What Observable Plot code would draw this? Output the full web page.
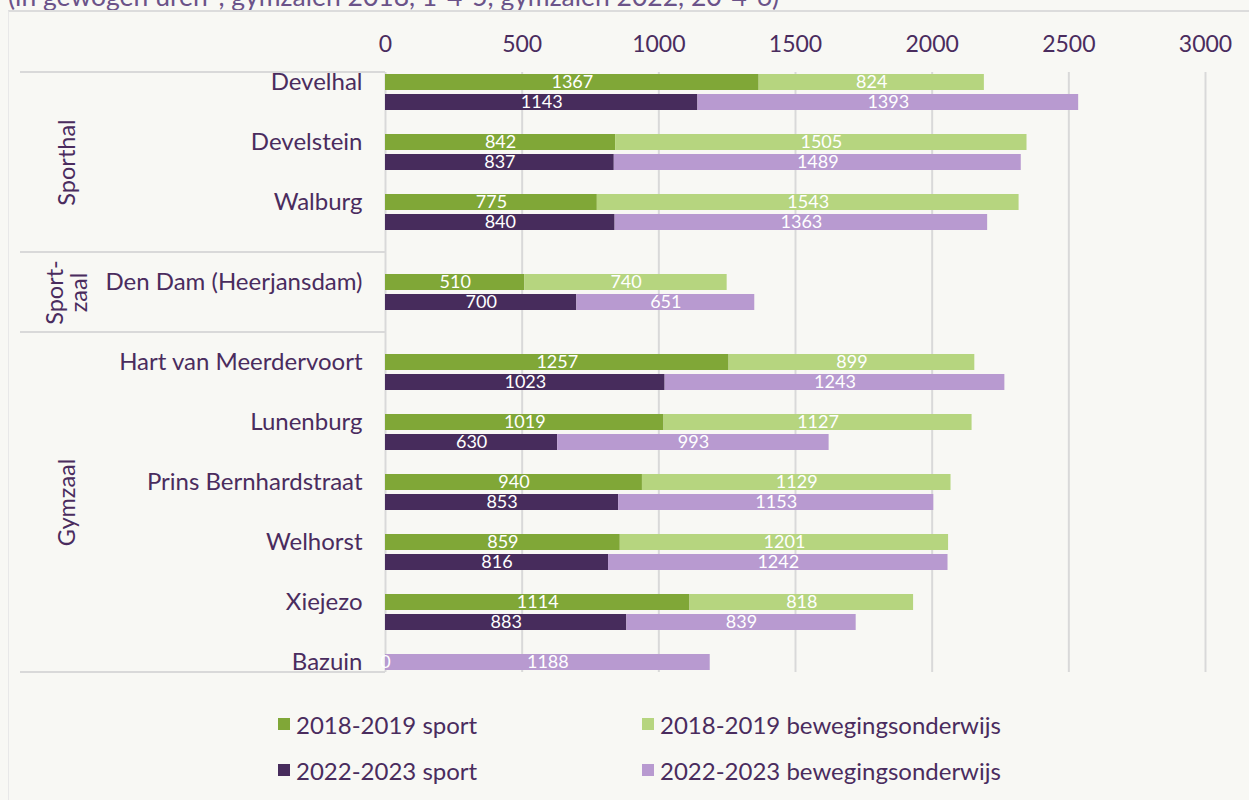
<!DOCTYPE html>
<html><head><meta charset="utf-8">
<script src="https://cdn.jsdelivr.net/npm/d3@7"></script>
<script src="https://cdn.jsdelivr.net/npm/@observablehq/plot@0.6"></script>
<style>
body{margin:0;background:#f8f8f4;font-family:Lato,sans-serif;width:1249px;height:800px;overflow:hidden;position:relative}
#sub{position:absolute;left:8px;top:-20px;font-size:26.5px;color:#6b5389;white-space:nowrap}
#frame{position:absolute;left:8px;top:10px;right:0;bottom:0;border-top:2px solid #dcdcdc;border-left:1px solid #e8e8e8}
#chart{position:absolute;left:0;top:0}
#legend{position:absolute;left:278px;top:708px;display:grid;grid-template-columns:364px 364px;row-gap:14px}
.item{display:flex;align-items:center;font-size:24px;color:#4a2c5e;height:32px}
.sw{width:12px;height:12px;margin-right:6px}
</style></head><body>
<div id="sub">(in gewogen uren*, gymzalen 2018, 1-4-5, gymzalen 2022, 20-4-6)</div>
<div id="frame"></div>
<div id="chart"></div>
<div id="legend"></div>
<script>
const groups = ["Sporthal", "Sport-\nzaal", "Gymzaal"];
const locations = ["Develhal", "Develstein", "Walburg", "Den Dam (Heerjansdam)", "Hart van Meerdervoort", "Lunenburg", "Prins Bernhardstraat", "Welhorst", "Xiejezo", "Bazuin"];
const locationGroup = ["Sporthal", "Sporthal", "Sporthal", "Sport-\nzaal", "Gymzaal", "Gymzaal", "Gymzaal", "Gymzaal", "Gymzaal", "Gymzaal"];
const sport2018 = [1367, 842, 775, 510, 1257, 1019, 940, 859, 1114, null];
const bew2018   = [824, 1505, 1543, 740, 899, 1127, 1129, 1201, 818, null];
const sport2022 = [1143, 837, 840, 700, 1023, 630, 853, 816, 883, 0];
const bew2022   = [1393, 1489, 1363, 651, 1243, 993, 1153, 1242, 839, 1188];
const seriesNames = ["2018-2019 sport", "2018-2019 bewegingsonderwijs", "2022-2023 sport", "2022-2023 bewegingsonderwijs"];
const seriesColors = ["#80a737", "#b6d57f", "#472c5c", "#b89ad0"];
const xTicks = [0, 500, 1000, 1500, 2000, 2500, 3000];

// build rows (one row per bar, blank rows between locations)
const rowOrder = [], segs = [], labels = [], groupRanges = [];
let nb = 0;
groups.forEach((g, gi) => {
  const idx = locations.map((l, i) => i).filter(i => locationGroup[i] === g);
  const start = rowOrder.length;
  if (gi > 0) rowOrder.push("_b" + (nb++));
  idx.forEach((i, k) => {
    const loc = locations[i];
    let first = null;
    if (sport2018[i] != null) {
      const r = loc + "|2018"; rowOrder.push(r); first = r;
      segs.push({row: r, series: seriesNames[0], value: sport2018[i]});
      segs.push({row: r, series: seriesNames[1], value: bew2018[i]});
    }
    const r2 = loc + "|2022"; rowOrder.push(r2); if (!first) first = r2;
    segs.push({row: r2, series: seriesNames[2], value: sport2022[i]});
    segs.push({row: r2, series: seriesNames[3], value: bew2022[i]});
    labels.push({row: first, name: loc});
    if (!(gi === groups.length - 1 && k === idx.length - 1)) rowOrder.push("_b" + (nb++));
  });
  groupRanges.push({name: g, start, end: rowOrder.length});
});

const txt = "#4a2c5e";
const groupMarks = groupRanges.map(gr => {
  const mid = (gr.start + gr.end - 1) / 2;
  const ri = Math.floor(mid);
  return Plot.text([gr], {y: () => rowOrder[ri], text: "name", frameAnchor: "left", dx: -318, dy: (mid - ri) * 20,
    rotate: -90, textAnchor: "middle", lineAnchor: "middle", fontSize: 23.5, fill: txt, lineHeight: 1.0});
});

const chart = Plot.plot({
  width: 1249, height: 690,
  marginTop: 72, marginBottom: 18, marginLeft: 385, marginRight: 44,
  style: {fontFamily: "Lato, sans-serif", fontSize: "20px", color: txt, background: "transparent", overflow: "visible"},
  x: {domain: [0, 3000]},
  y: {domain: rowOrder, paddingInner: 0.2, paddingOuter: 0.1, axis: null},
  color: {domain: seriesNames, range: seriesColors},
  marks: [
    Plot.gridX(xTicks, {stroke: "#d9d9d9", strokeWidth: 2, strokeOpacity: 1}),
    Plot.axisX(xTicks, {anchor: "top", tickSize: 0, tickPadding: 21, fontSize: 23, fill: txt, label: null, tickFormat: d3.format("d")}),
    Plot.barX(segs, Plot.stackX({x: "value", y: "row", fill: "series", z: "series", order: null})),
    Plot.text(segs, Plot.stackX({x: "value", y: "row", z: "series", text: d => String(d.value), order: null, fill: "white", fontSize: 18})),
    Plot.text(labels, {y: "row", text: "name", frameAnchor: "left", dx: -23, textAnchor: "end", fontSize: 24, fill: txt}),
    ...groupMarks
  ]
});
document.getElementById("chart").appendChild(chart);

// separators of the category box
const ys = chart.scale("y");
const svg = d3.select(chart);
const sepY = groupRanges.map(gr => ys.apply(rowOrder[gr.start]) - (ys.step - ys.bandwidth) / 2);
sepY.push(690 - 18);
svg.insert("g", ":first-child").selectAll("line").data(sepY).join("line")
  .attr("x1", 20).attr("x2", 385).attr("y1", d => d).attr("y2", d => d)
  .attr("stroke", "#d9d9d9").attr("stroke-width", 2);

// legend
const leg = d3.select("#legend");
[0, 1, 2, 3].forEach(i => {
  const it = leg.append("div").attr("class", "item");
  it.append("div").attr("class", "sw").style("background", seriesColors[i]);
  it.append("span").text(seriesNames[i]);
});
</script>
</body></html>
